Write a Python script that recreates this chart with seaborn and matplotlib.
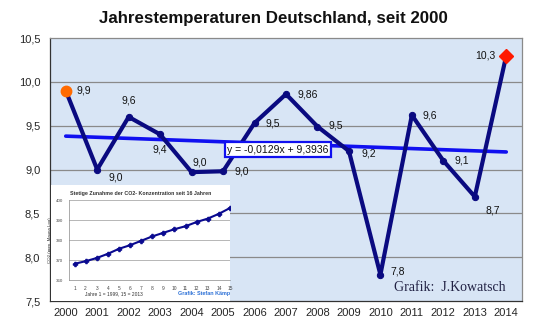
import numpy as np
import pandas as pd
import matplotlib
matplotlib.use("Agg")
import matplotlib.pyplot as plt
import seaborn as sns

# ---- data ----
years = ["2000", "2001", "2002", "2003", "2004", "2005", "2006", "2007",
         "2008", "2009", "2010", "2011", "2012", "2013", "2014"]
temps = [9.9, 9.0, 9.6, 9.4, 8.97, 8.98, 9.53, 9.86, 9.49, 9.21, 7.8, 9.62, 9.1, 8.69, 10.3]
point_labels = ["9,9", "9,0", "9,6", "9,4", "9,0", "9,0", "9,5", "9,86",
                "9,5", "9,2", "7,8", "9,6", "9,1", "8,7", "10,3"]
trend_slope = -0.0129
trend_intercept = 9.3936
y_ticks = [7.5, 8.0, 8.5, 9.0, 9.5, 10.0, 10.5]
y_tick_labels = ["7,5", "8,0", "8,5", "9,0", "9,5", "10,0", "10,5"]

co2_years = [1, 2, 3, 4, 5, 6, 7, 8, 9, 10, 11, 12, 13, 14, 15]
co2_ppm = [368.1, 369.4, 371.0, 373.1, 375.6, 377.4, 379.6, 381.8,
           383.6, 385.4, 386.9, 389.0, 390.7, 393.1, 396.0]
co2_ticks = [360, 370, 380, 390, 400]

sns.set_style("white")
plt.rcParams['font.family'] = ['Liberation Sans', 'DejaVu Sans']

W, H = 540, 327
fig = plt.figure(figsize=(W / 100, H / 100), dpi=100)
fig.patch.set_facecolor("white")

def rect(x0, y0, x1, y1):
    return [x0 / W, 1 - y1 / H, (x1 - x0) / W, (y1 - y0) / H]

ax = fig.add_axes(rect(50, 38, 522, 301))
ax.set_facecolor("#d8e5f5")

df = pd.DataFrame({"pos": np.arange(len(years)), "temp": temps})
df["trend"] = trend_slope * (df["pos"] + 1) + trend_intercept

for yv in y_ticks[1:-1]:
    ax.axhline(yv, color="#8a8a8a", lw=0.9, zorder=1)

sns.lineplot(data=df, x="pos", y="trend", ax=ax, color="#1010f0", lw=2.6, zorder=2)
sns.lineplot(data=df, x="pos", y="temp", ax=ax, color="#0a0a80", lw=3.0,
             marker="o", markersize=4.5, markeredgecolor="#0a0a80", zorder=3)
ax.plot(df["pos"].iloc[0], df["temp"].iloc[0], "o", color="#ff6a00", ms=7.5, zorder=4)
ax.plot(df["pos"].iloc[-1], df["temp"].iloc[-1], "D", color="#ff1a00", ms=7, zorder=4)

# labels offsets (points)
offs = [(8, 0, "left"), (8, -6, "left"), (0, 12, "center"), (0, -11, "center"),
        (1, 7, "left"), (8, 0, "left"), (8, 0, "left"), (8, 0, "left"),
        (8, 1, "left"), (9, -2, "left"), (7, 2, "left"), (8, 0, "left"),
        (8, 0, "left"), (8, -10, "left"), (-8, 0, "right")]
for i, (dx, dy, ha) in enumerate(offs):
    ax.annotate(point_labels[i], (df["pos"].iloc[i], df["temp"].iloc[i]),
                xytext=(dx, dy), textcoords="offset points", ha=ha, va="center",
                fontsize=7.5, color="#111111", zorder=5)

ax.text(6.74, 9.225, "y = -0,0129x + 9,3936", ha="center", va="center", fontsize=7.5,
        color="#111111", zorder=6,
        bbox=dict(boxstyle="square,pad=0.25", fc="white", ec="#1010f0", lw=1.6))

ax.set_xlim(-0.5, len(years) - 0.5)
ax.set_ylim(7.5, 10.5)
ax.set_xticks(np.arange(len(years) + 1) - 0.5)
ax.set_xticklabels([])
ax.set_xticks(np.arange(len(years)), minor=True)
ax.set_xticklabels(years, minor=True, fontsize=8)
ax.tick_params(axis="x", which="major", length=4, direction="out", color="#333333", width=0.8)
ax.tick_params(axis="x", which="minor", length=0, pad=5)
ax.set_yticks(y_ticks)
ax.set_yticklabels(y_tick_labels, fontsize=8)
ax.tick_params(axis="y", length=3, direction="out", color="#333333", width=0.8, pad=4)
ax.set_xlabel("")
ax.set_ylabel("")
for s in ["top", "right"]:
    ax.spines[s].set_color("#8a8a8a")
for s in ["left", "bottom"]:
    ax.spines[s].set_color("#333333")
for s in ax.spines.values():
    s.set_linewidth(0.9)

ax.text(0.965, 0.05, "Grafik:  J.Kowatsch", transform=ax.transAxes, ha="right",
        va="center", fontsize=10, family=["Liberation Serif", "DejaVu Serif"],
        color="#222244", zorder=6)

fig.text(273 / W, 1 - 18 / H, "Jahrestemperaturen Deutschland, seit 2000",
         ha="center", va="center", fontsize=12.2, fontweight="bold", color="#111111")

# ---- inset ----
panel = fig.add_axes(rect(50.5, 185, 230, 300.5))
panel.set_facecolor("white")
panel.set_xticks([]); panel.set_yticks([])
for s in panel.spines.values():
    s.set_visible(False)
panel.set_zorder(5)
panel.text(0.5, 0.93, "Stetige Zunahme der CO2- Konzentration seit 16 Jahren",
           transform=panel.transAxes, ha="center", va="center", fontsize=3.8,
           fontweight="bold", color="#333333")
panel.text(0.19, 0.06, "Jahre 1 = 1999, 15 = 2013", transform=panel.transAxes,
           ha="left", va="center", fontsize=3.5, color="#333333")
panel.text(0.71, 0.06, "Grafik: Stefan Kämpfe", transform=panel.transAxes,
           ha="left", va="center", fontsize=3.9, fontweight="bold", color="#2a6fd6",
           clip_on=True)

inax = fig.add_axes(rect(69, 200, 230, 280))
inax.set_zorder(6)
inax.set_facecolor("white")
co2_df = pd.DataFrame({"jahr": co2_years, "co2": co2_ppm})
sns.lineplot(data=co2_df, x="jahr", y="co2", ax=inax, color="#0a0a90", lw=1.5,
             marker="P", markersize=3.2, markeredgecolor="#0a0a90")
for t in co2_ticks:
    inax.axhline(t, color="#9a9a9a", lw=0.5, zorder=0)
inax.set_xlim(0.5, 0.5 + (230 - 69) / 11.7)
inax.set_ylim(360, 400)
inax.set_xticks(co2_years)
inax.set_xticklabels([str(v) for v in co2_years], fontsize=3.5)
inax.set_yticks(co2_ticks)
inax.set_yticklabels([str(v) for v in co2_ticks], fontsize=3.2)
inax.tick_params(length=1.5, width=0.4, pad=2.5, colors="#444444")
inax.set_xlabel("")
inax.set_ylabel("CO2 (ppm  Mauna Loa)", fontsize=3.2, labelpad=3, color="#333333")
for s in ["top", "right"]:
    inax.spines[s].set_visible(False)
for s in ["left", "bottom"]:
    inax.spines[s].set_color("#888888")
    inax.spines[s].set_linewidth(0.5)

fig.savefig("out.png", dpi=100, facecolor="white")
